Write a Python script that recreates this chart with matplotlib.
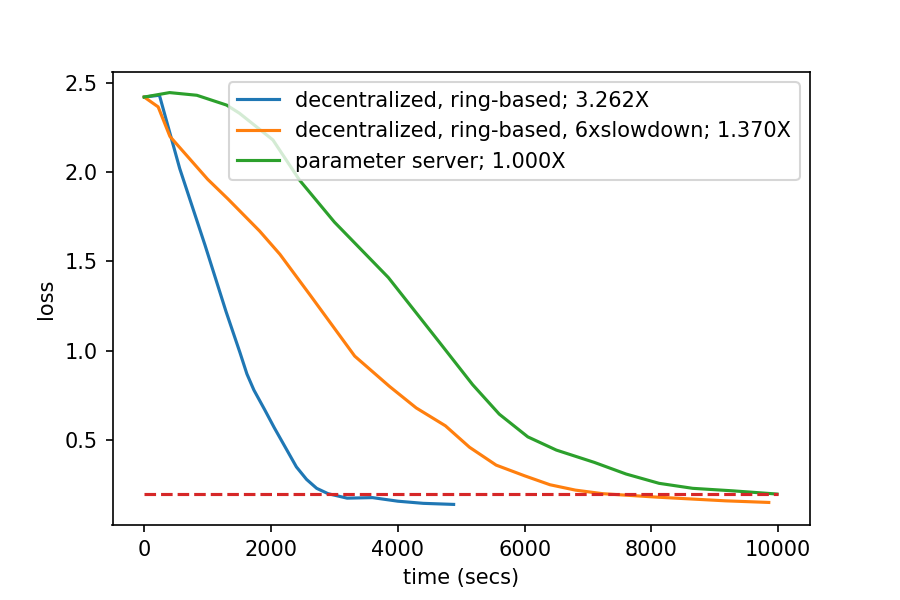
import matplotlib
matplotlib.use("Agg")
import matplotlib.pyplot as plt

# loss curves
ring_t = [0, 240, 560, 960, 1290, 1510, 1620, 1730, 1900, 2050, 2400, 2560, 2720, 2900, 3200, 3600, 4000, 4400, 4880]
ring_loss = [2.42, 2.43, 2.02, 1.59, 1.22, 0.99, 0.87, 0.78, 0.67, 0.57, 0.35, 0.28, 0.23, 0.20, 0.175, 0.178, 0.158, 0.146, 0.14]

slow_t = [0, 220, 405, 1000, 1320, 1820, 2140, 2620, 3320, 3870, 4290, 4750, 5130, 5550, 6000, 6400, 6800, 7230, 8120, 9170, 9850]
slow_loss = [2.42, 2.365, 2.2, 1.96, 1.85, 1.67, 1.54, 1.31, 0.97, 0.80, 0.68, 0.58, 0.46, 0.36, 0.30, 0.25, 0.22, 0.20, 0.18, 0.16, 0.151]

ps_t = [0, 400, 830, 1300, 1500, 2030, 2450, 3000, 3850, 4650, 5180, 5600, 6050, 6500, 7100, 7600, 8120, 8650, 9280, 9980]
ps_loss = [2.42, 2.445, 2.43, 2.375, 2.33, 2.18, 1.955, 1.72, 1.41, 1.05, 0.81, 0.645, 0.518, 0.444, 0.375, 0.31, 0.258, 0.23, 0.216, 0.198]

target_t = [0, 10000]
target_loss = [0.2, 0.2]

fig, ax = plt.subplots(figsize=(6, 4), dpi=150)
fig.subplots_adjust(left=0.125, right=0.9, top=0.88, bottom=0.125)

ax.plot(ring_t, ring_loss, label="decentralized, ring-based; 3.262X")
ax.plot(slow_t, slow_loss, label="decentralized, ring-based, 6xslowdown; 1.370X")
ax.plot(ps_t, ps_loss, label="parameter server; 1.000X")
ax.plot(target_t, target_loss, "--", color="C3")

ax.set_xlabel("time (secs)")
ax.set_ylabel("loss")
ax.legend(loc="upper right")

fig.savefig("out.png", dpi=150)
